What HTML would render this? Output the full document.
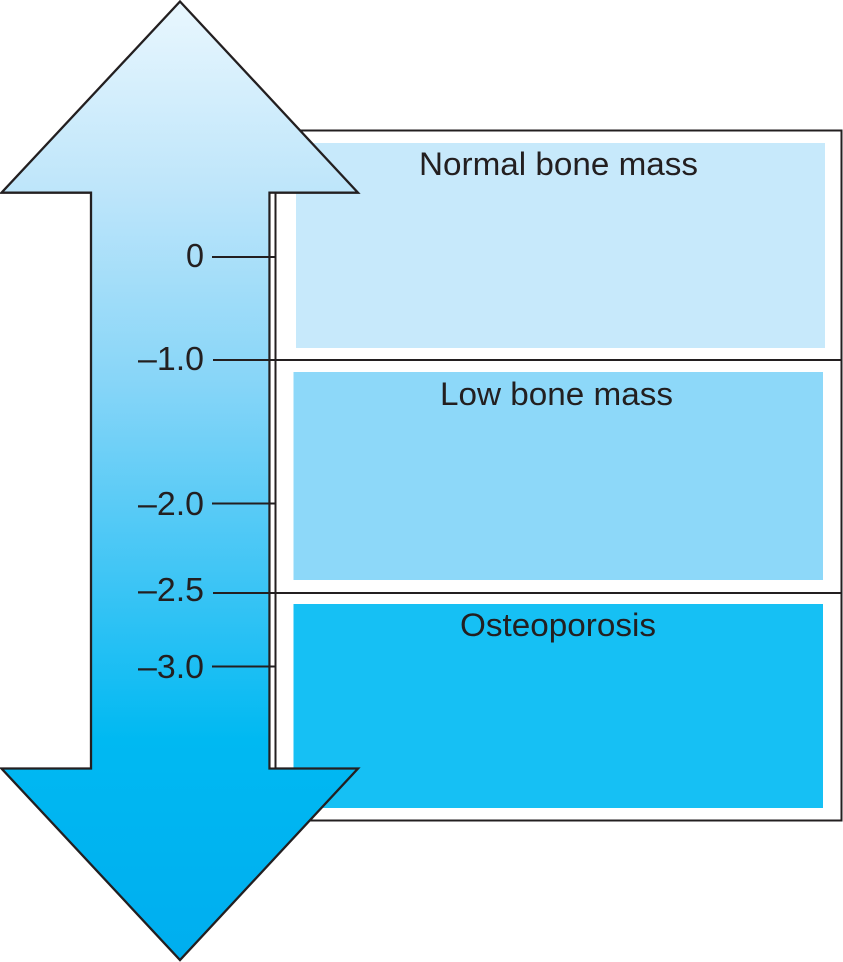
<!DOCTYPE html>
<html><head><meta charset="utf-8"><style>
html,body{margin:0;padding:0;background:#fff}
svg{display:block}
text{font-family:"Liberation Sans",sans-serif;font-size:32px;fill:#231f20}
.n{font-size:33px}
</style></head><body>
<svg width="843" height="962" viewBox="0 0 843 962" xmlns="http://www.w3.org/2000/svg">
<defs><linearGradient id="g" x1="0" y1="0" x2="0" y2="1">
<stop offset="0" stop-color="#e9f7fe"/>
<stop offset="0.2" stop-color="#bde5fa"/>
<stop offset="0.4" stop-color="#86d5f8"/>
<stop offset="0.6" stop-color="#3fc5f5"/>
<stop offset="0.77" stop-color="#00b9f2"/>
<stop offset="1" stop-color="#00aeef"/>
</linearGradient></defs>
<rect x="275.5" y="130.5" width="566" height="690" fill="#fff" stroke="#231f20" stroke-width="2"/>
<rect x="296" y="143" width="529" height="205" fill="#c7e9fb"/>
<rect x="293.500" y="372" width="529.500" height="208" fill="#8dd8f9"/>
<rect x="293.500" y="604" width="529.500" height="204" fill="#16c0f4"/>
<path d="M180 1.500L358 192.700H269.500V768.500H358L180 960L1.500 768.500H91V192.700H1.500Z" fill="url(#g)" stroke="#231f20" stroke-width="2.300" stroke-linejoin="miter"/>
<rect x="270.700" y="193.900" width="3.800" height="573.500" fill="#fff"/>
<path d="M212 257H275M213 360H841M212 503.500H275M213 593H841M212 666.500H275" stroke="#231f20" stroke-width="2" fill="none"/>
<text x="419" y="175" textLength="279" lengthAdjust="spacingAndGlyphs">Normal bone mass</text>
<text x="440" y="405" textLength="233" lengthAdjust="spacingAndGlyphs">Low bone mass</text>
<text x="460" y="636" textLength="196" lengthAdjust="spacingAndGlyphs">Osteoporosis</text>
<text class="n" x="186" y="267" textLength="18" lengthAdjust="spacingAndGlyphs">0</text>
<text class="n" x="138" y="370" textLength="66" lengthAdjust="spacingAndGlyphs">–1.0</text>
<text class="n" x="138" y="515" textLength="66" lengthAdjust="spacingAndGlyphs">–2.0</text>
<text class="n" x="138" y="601" textLength="66" lengthAdjust="spacingAndGlyphs">–2.5</text>
<text class="n" x="138" y="678" textLength="66" lengthAdjust="spacingAndGlyphs">–3.0</text>
</svg>
</body></html>
